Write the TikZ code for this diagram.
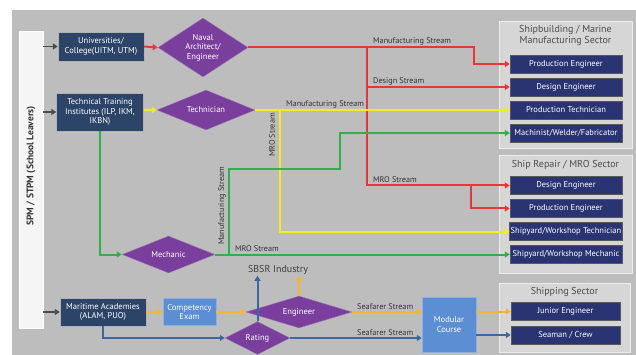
\documentclass[tikz,border=0pt]{standalone}
\usepackage{fontspec}
\setmainfont{PT Sans}
\usetikzlibrary{shapes.geometric,arrows.meta}

\definecolor{bggray}{HTML}{BDBDBD}
\definecolor{navy}{HTML}{2C4468}
\definecolor{jobblue}{HTML}{2A3472}
\definecolor{rolepurple}{HTML}{7A3E9D}
\definecolor{lightblue}{HTML}{5B8ED3}
\definecolor{sectorgray}{HTML}{D6D6D6}
\definecolor{streamred}{HTML}{EE3535}
\definecolor{streamyellow}{HTML}{F2EE1E}
\definecolor{streamgreen}{HTML}{2EB04A}
\definecolor{streamorange}{HTML}{F8B532}
\definecolor{streamblue}{HTML}{3D66A3}

\begin{document}
\begin{tikzpicture}[x=1pt, y=-1pt, font=\fontsize{8.5}{9.5}\selectfont,
  inst/.style={draw=gray!60, fill=navy, text=white, align=center, inner sep=1pt},
  job/.style={draw=gray!70!black, fill=jobblue, text=white, minimum width=112pt, minimum height=18pt, inner sep=1pt},
  role/.style={diamond, aspect=2, fill=rolepurple, draw=rolepurple!70!white, text=white, align=center, inner sep=0pt},
  course/.style={draw=lightblue!70!white, fill=lightblue, text=white, align=center},
  sector/.style={draw=white!85!gray, fill=sectorgray, line width=1pt},
  sectitle/.style={text=black!70, align=center, font=\fontsize{10}{11}\selectfont},
  stream/.style={line width=2pt, -{Triangle[length=5pt,width=6pt]}},
  feed/.style={line width=1.5pt, gray!60!black, -{Triangle[length=5pt,width=6pt]}},
  tag/.style={text=black!80, inner sep=1pt, font=\fontsize{8.2}{9}\selectfont}]
  \useasboundingbox (0,0) rectangle (636,355);
  \fill[bggray] (12,10) rectangle (636,355);

  % school leavers bar
  \node[draw=white, fill=white!92!gray, minimum width=24pt, minimum height=297pt] (bar) at (31,179.5) {};
  \node[rotate=90, font=\bfseries\fontsize{9.5}{10.5}\selectfont, text=black!80] (barlabel) at (31,166) {SPM / STPM (School Leavers)};

  % institutions
  \node[inst, minimum width=86pt, minimum height=29pt] (univ) at (101,46.5) {Universities/\\College(UITM, UTM)};
  \node[inst, minimum width=87pt, minimum height=38pt] (tti) at (100,112) {Technical Training\\Institutes (ILP, IKM,\\IKBN)};
  \node[inst, minimum width=86pt, minimum height=28pt] (acad) at (103,312) {Maritime Academies\\(ALAM, PUO)};
  \node[course, minimum width=53pt, minimum height=27pt, inner sep=1pt] (exam) at (189.5,312) {Competency\\Exam};
  \node[course, minimum width=54pt, minimum height=55pt] (modc) at (449,324.5) {Modular\\Course};

  % roles
  \node[role, minimum width=90pt, minimum height=59pt] (naval) at (203,47.5) {Naval\\Architect/\\Engineer};
  \node[role, minimum width=98pt, minimum height=40pt] (techn) at (206,110) {Technician};
  \node[role, minimum width=93pt, minimum height=37pt] (mech) at (168.5,254.5) {Mechanic};
  \node[role, minimum width=106pt, minimum height=32pt] (eng) at (299,312) {Engineer};
  \node[role, minimum width=65pt, minimum height=33pt] (rating) at (257.5,338) {Rating};
  \node[font=\fontsize{10}{11}\selectfont, text=black!75, inner sep=1pt] (sbsr) at (278,270) {SBSR Industry};

  % sectors
  \node[sector, minimum width=133pt, minimum height=127pt] (sbsec) at (565.5,85.5) {};
  \node[sectitle] (sbtitle) at (565.5,36) {Shipbuilding / Marine\\Manufacturing Sector};
  \node[job] (pe1) at (566,64) {Production Engineer};
  \node[job] (de1) at (566,87) {Design Engineer};
  \node[job] (pt1) at (566,110) {Production Technician};
  \node[job] (mwf) at (566,133) {Machinist/Welder/Fabricator};

  \node[sector, minimum width=133pt, minimum height=117pt] (srsec) at (565.5,214.5) {};
  \node[sectitle] (srtitle) at (565.5,165) {Ship Repair / MRO Sector};
  \node[job] (de2) at (566,185.5) {Design Engineer};
  \node[job] (pe2) at (566,208.5) {Production Engineer};
  \node[job] (swt) at (566,231.5) {Shipyard/Workshop Technician};
  \node[job] (swm) at (566,254.5) {Shipyard/Workshop Mechanic};

  \node[sector, minimum width=131pt, minimum height=69pt] (shsec) at (564.5,317.5) {};
  \node[sectitle] (shtitle) at (564.5,292) {Shipping Sector};
  \node[job, minimum width=109pt] (je) at (565.5,311.5) {Junior Engineer};
  \node[job, minimum width=109pt] (sc) at (565.5,335) {Seaman / Crew};

  % feeds from the bar
  \foreach \n in {univ,tti,acad}
    \draw[feed] (bar.east |- \n.west) -- (\n.west);

  % red streams
  \coordinate (redsplit) at (367,47.5);
  \coordinate (mfgturn) at (474,47.5);
  \path (de2.west) ++(-39,0) coordinate (mrosplit);
  \draw[stream, streamred] (univ.east) -- (naval.west);
  \draw[stream, streamred] (naval.east) -- (mfgturn) |- (pe1.west);
  \draw[stream, streamred] (redsplit) |- (de1.west);
  \draw[stream, streamred] (redsplit) |- (de2.west);
  \draw[stream, streamred] (mrosplit) |- (pe2.west);

  % yellow streams
  \coordinate (ysplit) at (280,110);
  \draw[stream, streamyellow] (tti.east |- techn.west) -- (techn.west);
  \draw[stream, streamyellow] (techn.east) -- (pt1.west);
  \draw[stream, streamyellow] (ysplit) |- (swt.west);

  % green streams
  \coordinate (gsplit) at (229,254.5);
  \coordinate (gstep) at (340,169);
  \draw[stream, streamgreen] (tti.south) |- (mech.west);
  \draw[stream, streamgreen] (mech.east) -- (swm.west);
  \draw[stream, streamgreen] (gsplit) |- (gstep) |- (mwf.west);

  % seafarer streams
  \draw[stream, streamorange] (acad.east) -- (exam.west);
  \draw[stream, streamorange] (exam.east) -- (eng.west);
  \draw[stream, streamorange] (eng.north) -- (eng.north |- sbsr.south);
  \draw[stream, streamorange] (eng.east) -- (modc.west |- eng.east);
  \draw[stream, streamorange] (modc.east |- je.west) -- (je.west);
  \draw[stream, streamblue] (acad.south) |- (rating.west);
  \draw[stream, streamblue] (rating.north) -- (rating.north |- sbsr.south);
  \draw[stream, streamblue] (rating.east) -- (modc.west |- rating.east);
  \draw[stream, streamblue] (modc.east |- sc.west) -- (sc.west);

  % stream labels
  \node[tag, anchor=south west] (lblmfg) at (372,46) {Manufacturing Stream};
  \node[tag, anchor=south west] (lbldesign) at (372,86) {Design Stream};
  \node[tag, anchor=south west] (lblmro) at (372,184) {MRO Stream};
  \node[tag, anchor=south west] (lblyman) at (285,109) {Manufacturing Stream};
  \node[tag, rotate=90] (lblymro) at (272,135) {MRO Stream};
  \node[tag, rotate=90] (lblgman) at (222,206) {Manufacturing Stream};
  \node[tag, anchor=south west] (lblgmro) at (234,253) {MRO Stream};
  \node[tag, anchor=south west] (lblsea1) at (356,311) {Seafarer Stream};
  \node[tag, anchor=south west] (lblsea2) at (356,336.5) {Seafarer Stream};
\end{tikzpicture}
\end{document}
